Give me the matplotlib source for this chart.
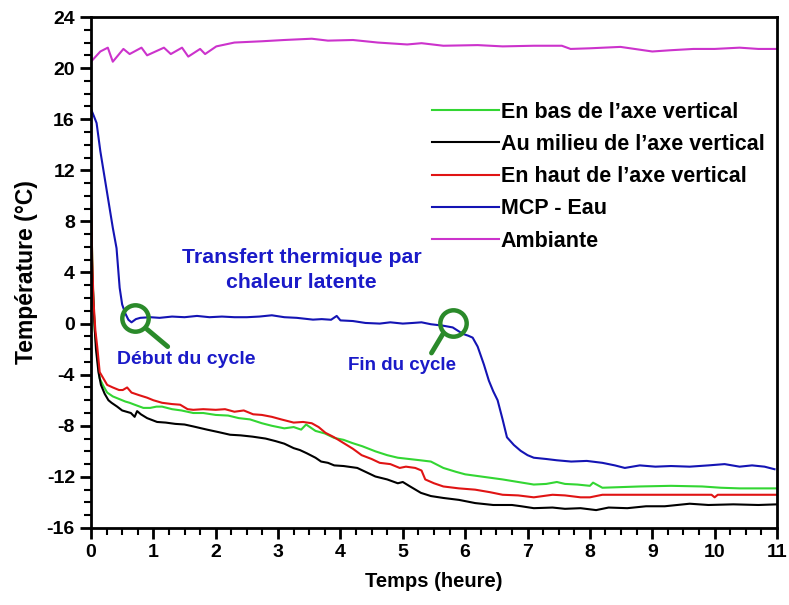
import numpy as np
import matplotlib
matplotlib.use("Agg")
import matplotlib.pyplot as plt
from matplotlib.ticker import MultipleLocator

plt.rcParams['font.family'] = ['Liberation Sans', 'DejaVu Sans']
plt.rcParams['font.weight'] = 'bold'
plt.rcParams['axes.labelweight'] = 'bold'
plt.rcParams['axes.unicode_minus'] = False

# En bas de l'axe vertical (vert)
t_bas = [0, 0.03, 0.06, 0.1, 0.14, 0.2, 0.26, 0.35, 0.45, 0.55, 0.62, 0.7, 0.84, 0.95, 1.05, 1.14,
         1.3, 1.45, 1.64, 1.8, 2.0, 2.2, 2.37, 2.55, 2.74, 2.9, 3.1, 3.25, 3.37, 3.45, 3.6, 3.75,
         3.9, 4.05, 4.19, 4.35, 4.56, 4.75, 4.92, 5.1, 5.28, 5.45, 5.65, 5.85, 6.0, 6.3, 6.6, 6.85,
         7.1, 7.3, 7.47, 7.6, 7.8, 8.0, 8.05, 8.2, 8.5, 8.8, 9.3, 9.8, 10.1, 10.4, 10.7, 11.0]
T_bas = [9.5, 3.0, -0.5, -2.5, -4.3, -4.9, -5.4, -5.7, -5.9, -6.1, -6.2, -6.35, -6.6, -6.6, -6.5, -6.5,
         -6.7, -6.8, -7.0, -7.0, -7.15, -7.2, -7.4, -7.5, -7.8, -8.0, -8.2, -8.1, -8.3, -7.9, -8.4, -8.6,
         -8.95, -9.1, -9.35, -9.6, -10.0, -10.3, -10.5, -10.6, -10.7, -10.8, -11.3, -11.6, -11.8, -12.0, -12.2, -12.4,
         -12.6, -12.55, -12.4, -12.55, -12.6, -12.7, -12.45, -12.85, -12.8, -12.75, -12.7, -12.75, -12.85, -12.9, -12.9, -12.9]

# Au milieu de l'axe vertical (noir)
t_milieu = [0, 0.02, 0.05, 0.08, 0.12, 0.16, 0.22, 0.28, 0.33, 0.42, 0.5, 0.57, 0.64, 0.7, 0.74, 0.8,
            0.9, 1.06, 1.2, 1.35, 1.5, 1.64, 1.86, 2.05, 2.23, 2.4, 2.59, 2.8, 2.96, 3.1, 3.25, 3.35,
            3.46, 3.6, 3.69, 3.8, 3.9, 4.05, 4.27, 4.4, 4.56, 4.75, 4.92, 5.0, 5.1, 5.29, 5.45, 5.65,
            5.9, 6.16, 6.45, 6.75, 6.9, 7.1, 7.4, 7.6, 7.85, 8.1, 8.3, 8.6, 8.9, 9.2, 9.6, 9.9, 10.3, 10.7, 11.0]
T_milieu = [9, 4, 0.5, -2.0, -3.8, -4.8, -5.5, -6.0, -6.2, -6.5, -6.8, -6.9, -7.0, -7.3, -6.85, -7.1,
            -7.4, -7.7, -7.75, -7.85, -7.9, -8.05, -8.3, -8.5, -8.7, -8.75, -8.85, -9.0, -9.2, -9.4, -9.75, -9.9,
            -10.15, -10.5, -10.8, -10.9, -11.1, -11.15, -11.3, -11.6, -11.97, -12.2, -12.5, -12.4, -12.7, -13.25, -13.5, -13.65,
            -13.8, -14.05, -14.2, -14.2, -14.3, -14.45, -14.4, -14.5, -14.45, -14.6, -14.4, -14.45, -14.3, -14.3, -14.1, -14.2, -14.15, -14.2, -14.15]

# En haut de l'axe vertical (rouge)
t_haut = [0, 0.02, 0.04, 0.07, 0.1, 0.14, 0.2, 0.26, 0.35, 0.45, 0.51, 0.58, 0.65, 0.77, 0.9, 1.0,
          1.14, 1.3, 1.43, 1.55, 1.64, 1.8, 2.0, 2.15, 2.3, 2.45, 2.6, 2.74, 2.9, 3.05, 3.25, 3.4,
          3.54, 3.65, 3.76, 3.9, 4.05, 4.2, 4.34, 4.5, 4.63, 4.8, 4.95, 5.05, 5.2, 5.3, 5.36, 5.5,
          5.65, 5.9, 6.16, 6.4, 6.6, 6.85, 7.1, 7.4, 7.6, 7.85, 8.0, 8.2, 8.57, 9.0, 9.5, 9.95, 10.0, 10.05, 10.5, 11.0]
T_haut = [10, 5, 1.8, -0.5, -1.8, -3.8, -4.3, -4.8, -5.0, -5.2, -5.2, -5.0, -5.4, -5.6, -5.8, -6.0,
          -6.2, -6.3, -6.35, -6.7, -6.75, -6.7, -6.75, -6.7, -6.9, -6.8, -7.1, -7.15, -7.3, -7.5, -7.75, -7.7,
          -7.8, -8.1, -8.55, -8.9, -9.35, -9.8, -10.3, -10.6, -10.9, -11.0, -11.3, -11.2, -11.3, -11.5, -12.2, -12.5,
          -12.75, -12.9, -13.0, -13.2, -13.4, -13.45, -13.6, -13.4, -13.45, -13.6, -13.6, -13.4, -13.4, -13.4, -13.4, -13.4, -13.6, -13.4, -13.4, -13.4]

# MCP - Eau (bleu)
t_mcp = [0, 0.05, 0.09, 0.15, 0.25, 0.35, 0.41, 0.46, 0.5, 0.55, 0.6, 0.65, 0.72, 0.79, 0.95, 1.1,
         1.3, 1.5, 1.7, 1.9, 2.1, 2.3, 2.5, 2.7, 2.9, 3.1, 3.3, 3.56, 3.7, 3.85, 3.94, 4.0,
         4.2, 4.4, 4.63, 4.8, 5.0, 5.16, 5.3, 5.45, 5.64, 5.8, 5.96, 6.05, 6.12, 6.2, 6.3, 6.38,
         6.45, 6.52, 6.6, 6.67, 6.78, 6.89, 7.0, 7.1, 7.3, 7.47, 7.7, 7.95, 8.2, 8.4, 8.56, 8.8,
         9.05, 9.3, 9.6, 9.9, 10.16, 10.4, 10.6, 10.8, 10.96]
T_mcp = [16.8, 16.2, 15.7, 13.5, 10.5, 7.5, 5.9, 2.8, 1.5, 0.8, 0.3, 0.1, 0.35, 0.45, 0.5, 0.45,
         0.55, 0.5, 0.6, 0.5, 0.55, 0.5, 0.5, 0.55, 0.65, 0.5, 0.45, 0.31, 0.35, 0.3, 0.6, 0.25,
         0.2, 0.05, 0.0, 0.1, 0.0, 0.05, 0.1, -0.05, -0.16, -0.3, -0.8, -0.95, -1.1, -1.8, -3.2, -4.47,
         -5.3, -6.0, -7.5, -8.9, -9.5, -9.96, -10.3, -10.5, -10.6, -10.7, -10.8, -10.75, -10.9, -11.1, -11.3, -11.1,
         -11.2, -11.15, -11.2, -11.1, -11.0, -11.2, -11.1, -11.2, -11.4]

# Ambiante (magenta)
t_amb = [0, 0.15, 0.27, 0.35, 0.52, 0.62, 0.81, 0.9, 1.17, 1.28, 1.46, 1.56, 1.75, 1.83, 2.01, 2.3,
         2.74, 3.1, 3.54, 3.8, 4.2, 4.6, 5.07, 5.3, 5.65, 6.2, 6.6, 7.1, 7.55, 7.69, 8.0, 8.49,
         9.0, 9.3, 9.66, 10.0, 10.4, 10.7, 11.0]
T_amb = [20.5, 21.3, 21.6, 20.5, 21.5, 21.1, 21.6, 21.0, 21.6, 21.1, 21.6, 20.9, 21.5, 21.1, 21.7, 22.0,
         22.1, 22.2, 22.3, 22.15, 22.2, 22.0, 21.85, 21.95, 21.75, 21.8, 21.7, 21.75, 21.75, 21.5, 21.55, 21.66,
         21.3, 21.4, 21.5, 21.5, 21.6, 21.5, 21.5]

labels = ["En bas de l’axe vertical", "Au milieu de l’axe vertical", "En haut de l’axe vertical",
          "MCP - Eau", "Ambiante"]
colors = ['#33d633', '#000000', '#e01414', '#1414b4', '#cc33cc']

# annotations: loupes (centre, bout du manche)
loupe_centres = [(0.7, 0.42), (5.8, 0.08)]
loupe_manches = [((0.9, -0.45), (1.23, -1.8)), ((5.65, -0.75), (5.46, -2.3))]

fig = plt.figure(figsize=(7.89, 6.05), dpi=100)
ax = fig.add_axes([0.1153, 0.1273, 0.8695, 0.8446])

series = [(t_bas, T_bas), (t_milieu, T_milieu), (t_haut, T_haut), (t_mcp, T_mcp), (t_amb, T_amb)]
for (t, T), lab, c in zip(series, labels, colors):
    ax.plot(t, T, color=c, lw=1.5, label=lab)

vert = '#2a8a2a'
for (cx, cy) in loupe_centres:
    ax.plot([cx], [cy], 'o', ms=19, mfc='none', mec=vert, mew=3.2)
for (p0, p1) in loupe_manches:
    ax.plot([p0[0], p1[0]], [p0[1], p1[1]], color=vert, lw=3.5, solid_capstyle='round')

bleu = '#1a1ac8'
ax.text(3.38, 4.2, "Transfert thermique par\nchaleur latente", color=bleu, fontsize=15.3,
        ha='center', va='center', linespacing=1.45)
ax.text(1.52, -2.8, "Début du cycle", color=bleu, fontsize=14, ha='center', va='center')
ax.text(4.98, -3.3, "Fin du cycle", color=bleu, fontsize=13.5, ha='center', va='center')

ax.set_xlim(0, 11)
ax.set_ylim(-16, 24)
ax.xaxis.set_major_locator(MultipleLocator(1))
ax.xaxis.set_minor_locator(MultipleLocator(0.25))
ax.yaxis.set_major_locator(MultipleLocator(4))
ax.yaxis.set_minor_locator(MultipleLocator(1))
ax.tick_params(which='major', length=8, width=2, labelsize=14, direction='out')
ax.tick_params(which='minor', length=5, width=1.5, direction='out')
for s in ax.spines.values():
    s.set_linewidth(2)

ax.set_xlabel("Temps (heure)", fontsize=14.5, labelpad=8)
ax.set_ylabel("Température (°C)", fontsize=16.5, labelpad=6)

leg = ax.legend(loc='upper left', bbox_to_anchor=(0.497, 0.834), frameon=False, fontsize=15.5,
                handlelength=3.1, handletextpad=0.1, labelspacing=0.52, borderpad=0, borderaxespad=0)

fig.savefig("out.png", dpi=100)
